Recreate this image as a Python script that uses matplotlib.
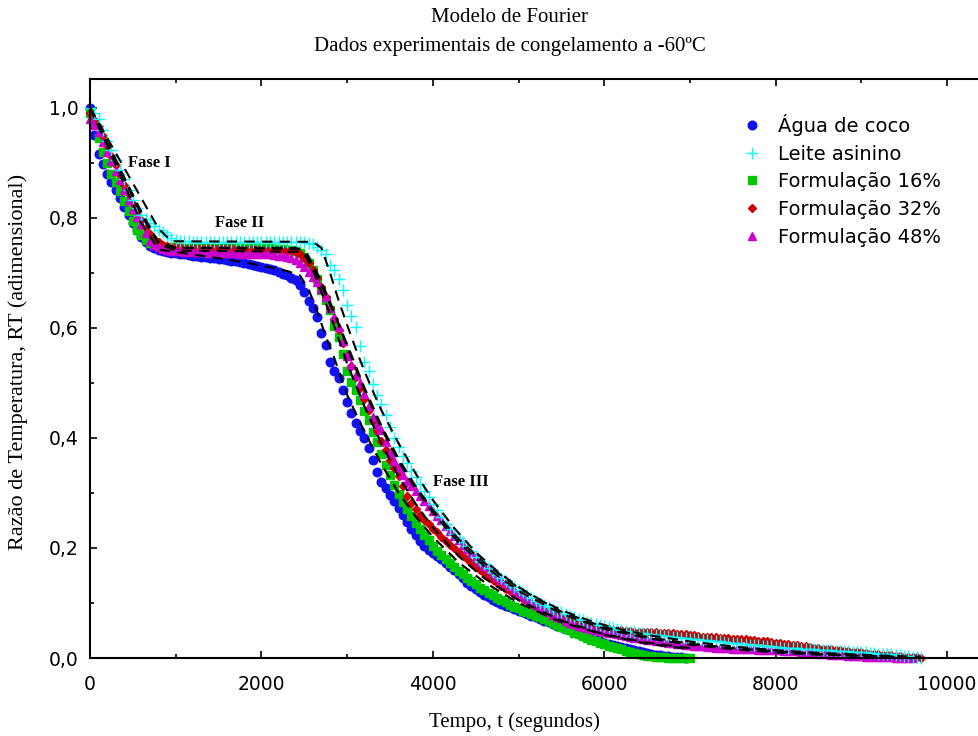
import numpy as np
import matplotlib
matplotlib.use("Agg")
import matplotlib.pyplot as plt
from matplotlib.ticker import MultipleLocator, FuncFormatter

# ---------------- data ----------------
t_step = 50  # sampling interval of the experimental series (s)

agua_coco = [
    1.000, 0.950, 0.915, 0.897, 0.880, 0.865, 0.850, 0.835, 0.820, 0.805,
    0.790, 0.777, 0.765, 0.756, 0.748, 0.744, 0.741, 0.739, 0.737, 0.736,
    0.735, 0.734, 0.733, 0.732, 0.731, 0.730, 0.729, 0.728, 0.727, 0.726,
    0.725, 0.724, 0.723, 0.722, 0.721, 0.719, 0.718, 0.716, 0.714, 0.712,
    0.710, 0.708, 0.706, 0.704, 0.701, 0.698, 0.695, 0.691, 0.686, 0.678,
    0.665, 0.648, 0.635, 0.620, 0.590, 0.568, 0.537, 0.522, 0.508, 0.486,
    0.465, 0.445, 0.427, 0.413, 0.399, 0.382, 0.360, 0.338, 0.320, 0.308,
    0.297, 0.285, 0.272, 0.259, 0.247, 0.235, 0.223, 0.212, 0.204, 0.197,
    0.190, 0.185, 0.179, 0.172, 0.166, 0.159, 0.152, 0.145, 0.137, 0.131,
    0.126, 0.120, 0.115, 0.110, 0.105, 0.101, 0.098, 0.095, 0.092, 0.089,
    0.086, 0.083, 0.080, 0.077, 0.074, 0.071, 0.068, 0.065, 0.062, 0.059,
    0.056, 0.053, 0.050, 0.047, 0.044, 0.041, 0.038, 0.035, 0.033, 0.030,
    0.028, 0.026, 0.024, 0.022, 0.020, 0.018, 0.016, 0.014, 0.012, 0.010,
    0.009, 0.007, 0.006, 0.005, 0.004, 0.003, 0.002, 0.001, 0.001, 0.000]

leite_asinino = [
    1.000, 0.990, 0.980, 0.960, 0.940, 0.922, 0.905, 0.887, 0.870, 0.850,
    0.832, 0.818, 0.805, 0.797, 0.790, 0.784, 0.778, 0.773, 0.768, 0.763,
    0.760, 0.758, 0.757, 0.757, 0.756, 0.756, 0.756, 0.756, 0.756, 0.756,
    0.756, 0.755, 0.755, 0.755, 0.755, 0.755, 0.755, 0.755, 0.755, 0.755,
    0.755, 0.755, 0.755, 0.755, 0.755, 0.755, 0.755, 0.755, 0.755, 0.755,
    0.755, 0.754, 0.752, 0.746, 0.741, 0.734, 0.714, 0.704, 0.688, 0.668,
    0.642, 0.622, 0.601, 0.567, 0.538, 0.522, 0.498, 0.478, 0.461, 0.441,
    0.420, 0.400, 0.384, 0.367, 0.354, 0.340, 0.328, 0.316, 0.304, 0.292,
    0.280, 0.268, 0.257, 0.244, 0.235, 0.226, 0.218, 0.210, 0.203, 0.195,
    0.184, 0.177, 0.170, 0.163, 0.157, 0.151, 0.145, 0.139, 0.134, 0.129,
    0.124, 0.119, 0.114, 0.109, 0.104, 0.100, 0.096, 0.092, 0.089, 0.086,
    0.083, 0.080, 0.077, 0.074, 0.071, 0.069, 0.066, 0.064, 0.062, 0.060,
    0.058, 0.056, 0.054, 0.052, 0.050, 0.049, 0.048, 0.047, 0.046, 0.045,
    0.044, 0.043, 0.042, 0.041, 0.040, 0.040, 0.039, 0.038, 0.037, 0.036,
    0.035, 0.034, 0.034, 0.033, 0.032, 0.031, 0.030, 0.030, 0.029, 0.028,
    0.027, 0.027, 0.026, 0.025, 0.024, 0.024, 0.023, 0.022, 0.021, 0.021,
    0.020, 0.020, 0.019, 0.019, 0.018, 0.018, 0.017, 0.017, 0.016, 0.016,
    0.015, 0.015, 0.014, 0.014, 0.013, 0.013, 0.012, 0.012, 0.011, 0.011,
    0.010, 0.010, 0.009, 0.009, 0.008, 0.008, 0.007, 0.007, 0.006, 0.005,
    0.004, 0.003, 0.002, 0.001, 0.000]

formulacao_16 = [
    0.990, 0.970, 0.945, 0.920, 0.900, 0.880, 0.865, 0.848, 0.830, 0.812,
    0.793, 0.778, 0.768, 0.760, 0.754, 0.750, 0.748, 0.747, 0.746, 0.746,
    0.745, 0.745, 0.745, 0.745, 0.744, 0.744, 0.744, 0.744, 0.744, 0.744,
    0.744, 0.744, 0.744, 0.744, 0.744, 0.744, 0.744, 0.744, 0.744, 0.744,
    0.744, 0.744, 0.744, 0.743, 0.743, 0.743, 0.742, 0.741, 0.739, 0.735,
    0.728, 0.718, 0.705, 0.688, 0.668, 0.650, 0.632, 0.604, 0.583, 0.553,
    0.522, 0.502, 0.487, 0.468, 0.449, 0.432, 0.411, 0.392, 0.370, 0.350,
    0.332, 0.314, 0.298, 0.284, 0.270, 0.258, 0.246, 0.235, 0.224, 0.214,
    0.204, 0.195, 0.187, 0.179, 0.172, 0.165, 0.158, 0.152, 0.146, 0.140,
    0.134, 0.128, 0.123, 0.118, 0.114, 0.109, 0.105, 0.101, 0.097, 0.093,
    0.090, 0.086, 0.083, 0.080, 0.077, 0.074, 0.071, 0.067, 0.064, 0.060,
    0.057, 0.053, 0.050, 0.046, 0.043, 0.040, 0.036, 0.033, 0.030, 0.027,
    0.025, 0.022, 0.020, 0.018, 0.016, 0.013, 0.011, 0.009, 0.007, 0.005,
    0.004, 0.003, 0.002, 0.001, 0.001, 0.000, 0.000, 0.000, 0.000, 0.000,
    0.000]

formulacao_32 = [
    0.990, 0.978, 0.965, 0.948, 0.930, 0.912, 0.895, 0.878, 0.860, 0.842,
    0.825, 0.810, 0.795, 0.782, 0.770, 0.762, 0.755, 0.751, 0.748, 0.747,
    0.746, 0.746, 0.745, 0.745, 0.745, 0.745, 0.745, 0.745, 0.744, 0.744,
    0.744, 0.744, 0.744, 0.744, 0.743, 0.743, 0.743, 0.743, 0.743, 0.743,
    0.742, 0.742, 0.742, 0.742, 0.742, 0.741, 0.740, 0.739, 0.737, 0.733,
    0.727, 0.718, 0.704, 0.690, 0.674, 0.656, 0.636, 0.616, 0.596, 0.572,
    0.549, 0.530, 0.511, 0.490, 0.470, 0.450, 0.431, 0.413, 0.395, 0.377,
    0.360, 0.345, 0.330, 0.312, 0.295, 0.282, 0.270, 0.260, 0.251, 0.243,
    0.235, 0.228, 0.220, 0.213, 0.206, 0.199, 0.192, 0.185, 0.179, 0.172,
    0.166, 0.160, 0.154, 0.148, 0.142, 0.136, 0.131, 0.126, 0.121, 0.116,
    0.112, 0.107, 0.103, 0.099, 0.095, 0.091, 0.087, 0.083, 0.080, 0.077,
    0.074, 0.071, 0.068, 0.065, 0.063, 0.060, 0.058, 0.056, 0.055, 0.054,
    0.053, 0.052, 0.051, 0.050, 0.050, 0.049, 0.049, 0.048, 0.048, 0.047,
    0.047, 0.047, 0.047, 0.046, 0.046, 0.045, 0.045, 0.044, 0.043, 0.043,
    0.042, 0.041, 0.040, 0.039, 0.039, 0.038, 0.038, 0.037, 0.037, 0.036,
    0.035, 0.035, 0.034, 0.034, 0.033, 0.032, 0.031, 0.031, 0.030, 0.029,
    0.028, 0.027, 0.026, 0.025, 0.024, 0.023, 0.022, 0.021, 0.020, 0.019,
    0.018, 0.017, 0.016, 0.016, 0.015, 0.014, 0.013, 0.012, 0.011, 0.010,
    0.010, 0.009, 0.008, 0.008, 0.007, 0.006, 0.005, 0.005, 0.004, 0.003,
    0.002, 0.002, 0.001, 0.001, 0.000]

formulacao_48 = [
    0.980, 0.968, 0.955, 0.938, 0.920, 0.902, 0.885, 0.868, 0.850, 0.832,
    0.815, 0.802, 0.789, 0.772, 0.758, 0.751, 0.746, 0.743, 0.741, 0.740,
    0.739, 0.739, 0.738, 0.738, 0.737, 0.737, 0.737, 0.736, 0.736, 0.736,
    0.736, 0.735, 0.735, 0.735, 0.735, 0.734, 0.734, 0.734, 0.734, 0.734,
    0.734, 0.733, 0.733, 0.732, 0.731, 0.730, 0.728, 0.726, 0.723, 0.718,
    0.711, 0.702, 0.693, 0.683, 0.670, 0.656, 0.636, 0.620, 0.601, 0.575,
    0.548, 0.532, 0.515, 0.500, 0.480, 0.458, 0.437, 0.424, 0.414, 0.392,
    0.372, 0.358, 0.345, 0.333, 0.322, 0.312, 0.303, 0.294, 0.285, 0.276,
    0.267, 0.258, 0.250, 0.240, 0.231, 0.222, 0.214, 0.206, 0.198, 0.190,
    0.183, 0.175, 0.168, 0.161, 0.154, 0.148, 0.142, 0.136, 0.130, 0.124,
    0.118, 0.113, 0.108, 0.102, 0.097, 0.092, 0.088, 0.083, 0.079, 0.075,
    0.072, 0.068, 0.064, 0.061, 0.058, 0.056, 0.054, 0.052, 0.051, 0.049,
    0.048, 0.046, 0.045, 0.043, 0.042, 0.040, 0.039, 0.037, 0.036, 0.035,
    0.033, 0.032, 0.031, 0.030, 0.029, 0.028, 0.027, 0.026, 0.025, 0.024,
    0.023, 0.022, 0.021, 0.021, 0.020, 0.020, 0.019, 0.019, 0.018, 0.018,
    0.017, 0.017, 0.016, 0.016, 0.016, 0.016, 0.015, 0.015, 0.015, 0.015,
    0.014, 0.014, 0.013, 0.013, 0.012, 0.012, 0.011, 0.010, 0.010, 0.009,
    0.008, 0.007, 0.007, 0.006, 0.006, 0.005, 0.005, 0.004, 0.004, 0.003,
    0.003, 0.002, 0.002, 0.002, 0.001, 0.001, 0.001, 0.001, 0.000, 0.000,
    0.000, 0.000, 0.000]

# Fourier model curves (dashed)
mod_coco_t = [0, 200, 400, 600, 800, 1200, 1600, 2000, 2300, 2450, 2550, 2650, 2750,
              2850, 3000, 3200, 3400, 3600, 3800, 4000, 4300, 4600, 5000, 5500, 6000,
              6500, 7000]
mod_coco_y = [1.000, 0.930, 0.860, 0.790, 0.742, 0.733, 0.724, 0.713, 0.703, 0.695,
              0.670, 0.630, 0.585, 0.545, 0.478, 0.412, 0.352, 0.300, 0.257, 0.220,
              0.174, 0.138, 0.100, 0.065, 0.042, 0.026, 0.016]

mod_leite_t = [0, 200, 400, 600, 800, 950, 2600, 2700, 2800, 2900, 3000, 3100, 3200,
               3300, 3400, 3600, 3800, 4000, 4250, 4500, 4750, 5000, 5250, 5500, 5750,
               6000, 6250, 6500, 7000, 7500, 8000, 8500, 9000, 9500, 9700]
mod_leite_y = [1.000, 0.945, 0.890, 0.835, 0.780, 0.757, 0.756, 0.745, 0.700, 0.650,
               0.605, 0.562, 0.522, 0.485, 0.450, 0.390, 0.335, 0.287, 0.236, 0.192,
               0.158, 0.129, 0.106, 0.087, 0.072, 0.060, 0.050, 0.042, 0.030, 0.021,
               0.014, 0.009, 0.006, 0.003, 0.002]

mod_f16_t = [0, 200, 400, 600, 800, 1000, 2400, 2500, 2600, 2700, 2800, 2900, 3000,
             3200, 3400, 3600, 3800, 4000, 4300, 4600, 5000, 5500, 6000, 6500, 7000]
mod_f16_y = [1.000, 0.935, 0.870, 0.805, 0.755, 0.745, 0.745, 0.735, 0.705, 0.665,
             0.625, 0.580, 0.535, 0.458, 0.390, 0.330, 0.280, 0.237, 0.185, 0.145,
             0.105, 0.068, 0.043, 0.028, 0.018]

mod_f32_t = [0, 200, 400, 600, 800, 1000, 2450, 2550, 2650, 2750, 2850, 3000, 3200,
             3400, 3600, 3800, 4000, 4300, 4600, 5000, 5500, 6000, 6500, 7000, 7500,
             8000, 8500, 9000, 9500]
mod_f32_y = [1.000, 0.937, 0.873, 0.810, 0.755, 0.745, 0.743, 0.730, 0.700, 0.665,
             0.628, 0.565, 0.487, 0.417, 0.357, 0.307, 0.264, 0.210, 0.167, 0.122,
             0.080, 0.053, 0.036, 0.024, 0.016, 0.010, 0.006, 0.004, 0.002]

mod_f48_t = mod_f32_t
mod_f48_y = [1.000, 0.935, 0.870, 0.805, 0.752, 0.740, 0.738, 0.725, 0.695, 0.660,
             0.625, 0.570, 0.492, 0.422, 0.362, 0.312, 0.269, 0.216, 0.173, 0.127,
             0.084, 0.056, 0.038, 0.026, 0.018, 0.012, 0.007, 0.004, 0.002]

labels = ["Água de coco", "Leite asinino", "Formulação 16%",
          "Formulação 32%", "Formulação 48%"]
x_ticks = [0, 2000, 4000, 6000, 8000, 10000]
y_ticks = [0.0, 0.2, 0.4, 0.6, 0.8, 1.0]


def times_of(values):
    return np.arange(len(values)) * t_step


# ---------------- figure ----------------
fig = plt.figure(figsize=(9.79, 7.36), dpi=100)
ax = fig.add_axes([90 / 979, 1 - 658 / 736, 889 / 979, (658 - 79) / 736])

kw = dict(linestyle="none", clip_on=False)
h_coco, = ax.plot(times_of(agua_coco), agua_coco, marker="o", ms=6.2,
                  color="#1010f0", mec="#1010f0", label=labels[0], **kw)
h_f16, = ax.plot(times_of(formulacao_16), formulacao_16, marker="s", ms=5.2,
                 color="#00c800", mec="#00c800", label=labels[2], **kw)
h_f32, = ax.plot(times_of(formulacao_32), formulacao_32, marker="D", ms=4.2,
                 color="#cc0000", mec="#cc0000", label=labels[3], **kw)
h_f48, = ax.plot(times_of(formulacao_48), formulacao_48, marker="^", ms=6.2,
                 color="#cc00cc", mec="#cc00cc", label=labels[4], **kw)
h_leite, = ax.plot(times_of(leite_asinino), leite_asinino, marker="+", ms=8,
                   mew=1.0, color="#00ffff", label=labels[1], **kw)

dash = dict(color="black", lw=1.5, linestyle=(0, (5, 3.5)), clip_on=False)
for mt, my in [(mod_coco_t, mod_coco_y), (mod_leite_t, mod_leite_y),
               (mod_f16_t, mod_f16_y), (mod_f32_t, mod_f32_y),
               (mod_f48_t, mod_f48_y)]:
    ax.plot(mt, my, **dash)

ax.set_xlim(0, 10373)
ax.set_ylim(0, 1.0518)

ax.spines["right"].set_visible(False)
for s in ["left", "top", "bottom"]:
    ax.spines[s].set_linewidth(1.5)

ax.set_xticks(x_ticks)
ax.set_yticks(y_ticks)
ax.xaxis.set_minor_locator(MultipleLocator(1000))
ax.yaxis.set_minor_locator(MultipleLocator(0.1))
ax.yaxis.set_major_formatter(FuncFormatter(lambda v, p: f"{v:.1f}".replace(".", ",")))
ax.xaxis.set_major_formatter(FuncFormatter(lambda v, p: f"{int(v)}"))
ax.tick_params(which="both", direction="in", top=True, right=False,
               labelsize=13.5, width=1.2)
ax.tick_params(which="major", length=5)
ax.tick_params(which="minor", length=3)
ax.tick_params(axis="x", pad=12)
ax.tick_params(axis="y", pad=8)
for lab in ax.get_xticklabels() + ax.get_yticklabels():
    lab.set_family("DejaVu Sans")

serif = "Liberation Serif"
fig.text(510 / 979, 1 - 18 / 736, "Modelo de Fourier", ha="center", va="center",
         family=serif, fontsize=15)
fig.text(510 / 979, 1 - 46 / 736, "Dados experimentais de congelamento a -60ºC",
         ha="center", va="center", family=serif, fontsize=15)
fig.text(514 / 979, 1 - 722 / 736, "Tempo, t (segundos)", ha="center", va="center",
         family=serif, fontsize=15)
fig.text(18 / 979, 1 - 362 / 736, "Razão de Temperatura, RT (adimensional)",
         ha="center", va="center", rotation=90, family=serif, fontsize=16)

ax.text(443, 0.90, "Fase I", family=serif, fontweight="bold", fontsize=12,
        va="center", ha="left")
ax.text(1459, 0.79, "Fase II", family=serif, fontweight="bold", fontsize=12,
        va="center", ha="left")
ax.text(4002, 0.32, "Fase III", family=serif, fontweight="bold", fontsize=12,
        va="center", ha="left")

leg = ax.legend(handles=[h_coco, h_leite, h_f16, h_f32, h_f48], loc="upper left",
                bbox_to_anchor=((735 - 90) / 889, (658 - 106) / 579), frameon=False,
                prop={"family": "DejaVu Sans", "size": 14}, handlelength=1.0,
                handletextpad=0.8, labelspacing=0.45, borderaxespad=0.0,
                markerscale=1.0)

fig.savefig("out.png", dpi=100)
